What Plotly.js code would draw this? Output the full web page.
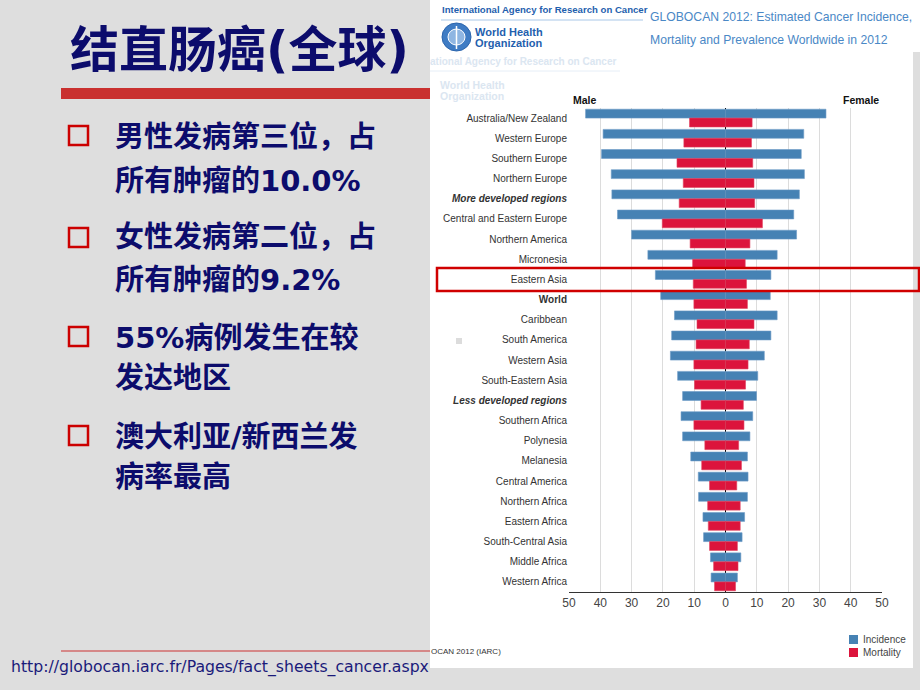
<!DOCTYPE html>
<html><head><meta charset="utf-8">
<script src="https://cdn.plot.ly/plotly-3.0.1.min.js"></script>
<style>html,body{margin:0;padding:0;background:#dedede;}#chart{width:920px;height:690px;}</style>
</head><body><div id="chart"></div>
<script>
const categories = ["Australia/New Zealand","Western Europe","Southern Europe","Northern Europe","More developed regions","Central and Eastern Europe","Northern America","Micronesia","Eastern Asia","World","Caribbean","South America","Western Asia","South-Eastern Asia","Less developed regions","Southern Africa","Polynesia","Melanesia","Central America","Northern Africa","Eastern Africa","South-Central Asia","Middle Africa","Western Africa"];
const maleIncidence   = [44.7,39.1,39.6,36.5,36.3,34.5,30.0,24.8,22.4,20.7,16.3,17.2,17.6,15.3,13.7,14.2,13.7,11.1,8.7,8.6,7.2,7.0,4.8,4.6];
const femaleIncidence = [32.1,25.0,24.2,25.2,23.6,21.8,22.7,16.5,14.5,14.3,16.5,14.5,12.4,10.3,9.9,8.7,7.8,7.0,7.2,7.0,6.1,5.3,4.9,3.8];
const maleMortality   = [11.5,13.3,15.5,13.5,14.8,20.2,11.3,10.5,10.3,10.1,9.1,9.4,10.1,9.9,7.8,10.1,6.6,7.6,5.1,5.7,5.5,5.1,3.8,3.5];
const femaleMortality = [8.5,8.3,8.7,9.1,9.3,11.8,7.8,6.3,6.7,7.0,9.1,7.6,7.2,6.4,5.7,5.9,4.2,5.1,3.6,4.7,4.7,3.8,4.0,3.2];
const xTickVals = [-50,-40,-30,-20,-10,0,10,20,30,40,50];
const xTickText = ["50","40","30","20","10","0","10","20","30","40","50"];
const boldItalic = ["More developed regions","Less developed regions"];
const boldOnly = ["World"];
const seriesNames = ["Incidence","Mortality"];
const seriesColors = ["#4682b4","#dc143c"];

const title = "结直肠癌(全球)";
const bulletLines = [
  ["男性发病第三位，占","所有肿瘤的10.0%"],
  ["女性发病第二位，占","所有肿瘤的9.2%"],
  ["55%病例发生在较","发达地区"],
  ["澳大利亚/新西兰发","病率最高"]
];
const sourceUrl = "http://globocan.iarc.fr/Pages/fact_sheets_cancer.aspx";

// plot area in pixels
const L = 569, R = 882, T = 108, B = 592;
const px = v => (v - L) / (R - L);
const py = v => (B - v) / (B - T);

const tickText = categories.map(c => boldItalic.includes(c) ? "<b><i>"+c+"</i></b>" : (boldOnly.includes(c) ? "<b>"+c+"</b>" : c));

const W = 0.44;
function barTrace(x, color, offset, name){
  return {type:"bar", orientation:"h", y:categories, x:x, offset:offset, width:W,
    marker:{color:color, line:{color:color==="#4682b4"?"#6b9bc6":"#e0435f", width:0.6}},
    name:name, showlegend:false, hoverinfo:"skip"};
}
const traces = [
  barTrace(maleIncidence.map(v=>-v), seriesColors[0], -W, seriesNames[0]),
  barTrace(femaleIncidence, seriesColors[0], -W, seriesNames[0]),
  barTrace(maleMortality.map(v=>-v), seriesColors[1], 0, seriesNames[1]),
  barTrace(femaleMortality, seriesColors[1], 0, seriesNames[1])
];

const navy = "#0c0c6c";
const cjk = "DejaVu Sans, Noto Sans CJK SC, sans-serif";
const sans = "Liberation Sans, Arial, sans-serif";
const ann = [];
const shapes = [];
function rect(x0,y0,x1,y1,fill,line,lw,layer){
  shapes.push({type:"rect", xref:"paper", yref:"paper", x0:px(x0), x1:px(x1), y0:py(y1), y1:py(y0),
    fillcolor:fill||"rgba(0,0,0,0)", line:{color:line||"rgba(0,0,0,0)", width:lw||0}, layer:layer||"below"});
}
function line(x0,y0,x1,y1,color,w,layer){
  shapes.push({type:"line", xref:"paper", yref:"paper", x0:px(x0), x1:px(x1), y0:py(y0), y1:py(y1),
    line:{color:color, width:w}, layer:layer||"below"});
}
function text(t,x,y,size,color,family,xanchor,weight){
  ann.push({text:t, xref:"paper", yref:"paper", x:px(x), y:py(y), xanchor:xanchor||"left", yanchor:"middle",
    showarrow:false, font:{size:size, color:color, family:family, weight:weight||"normal"}});
}

// header banner and chart panel
rect(430,0,920,52,"#ffffff");
rect(430,52,913,668,"#ffffff");
// title rule and bottom rule
rect(61,88,430,99,"#c9302f");
line(61,651,430,651,"#cc3333",1);

// slide title + bullets
text(title,239,50,49,navy,cjk,"center","bold");
const lineY = [[137,181],[237,280],[338,378],[437,477]];
const boxY = [126,228,327,426];
bulletLines.forEach((ls,i)=>{
  ls.forEach((l,j)=> text(l,113,lineY[i][j],29,navy,cjk,"left","bold"));
  rect(69,boxY[i],88,boxY[i]+19,"rgba(0,0,0,0)","#cc0000",2.5,"above");
});
text(sourceUrl,9,667,15.7,"#1a1a7a","DejaVu Sans","left");

// header contents
text("International Agency for Research on Cancer",440,10,9.6,"#1f5fae",sans,"left","bold");
line(441,20,643,20,"#a9c8e8",1);
shapes.push({type:"circle", xref:"paper", yref:"paper", x0:px(442), x1:px(471), y0:py(51), y1:py(23), fillcolor:"#3f7cc4", line:{color:"#2b65ad", width:1}, layer:"below"});
shapes.push({type:"circle", xref:"paper", yref:"paper", x0:px(448), x1:px(465), y0:py(45), y1:py(29), fillcolor:"#8fb6e2", line:{color:"#ffffff", width:1}, layer:"below"});
line(456.5,26,456.5,49,"#ffffff",1.5);
text("World Health",473,32,11,"#1f5fae",sans,"left","bold");
text("Organization",473,43,11,"#1f5fae",sans,"left","bold");
text("GLOBOCAN 2012: Estimated Cancer Incidence,",648,17,12.2,"#4a88c6",sans,"left");
text("Mortality and Prevalence Worldwide in 2012",648,40,12.2,"#4a88c6",sans,"left");

// faded watermark inside panel
text("ational Agency for Research on Cancer",428,61,10,"#dbe6f1",sans,"left","bold");
line(430,71,620,71,"#e6eef7",1);
text("World Health",438,85,10.5,"#dbe6f1",sans,"left","bold");
text("Organization",438,96,10.5,"#dbe6f1",sans,"left","bold");
rect(456,338,462,344,"#dcdcdc");

// chart labels
text("Male",571,100,10.5,"#111",sans,"left","bold");
text("Female",881,100,10.5,"#111",sans,"right","bold");
text("OCAN 2012 (IARC)",429,651,8,"#333",sans,"left");

// legend (manual)
rect(849,635,858,644,seriesColors[0]);
rect(849,648,858,657,seriesColors[1]);
text(seriesNames[0],861,639.5,10,"#444",sans,"left");
text(seriesNames[1],861,652.5,10,"#444",sans,"left");

// Eastern Asia highlight
rect(437,268,919,291,"rgba(0,0,0,0)","#d00000",2.5,"above");

const layout = {
  width:920, height:690,
  margin:{l:L, r:920-R, t:T, b:690-B, pad:0},
  paper_bgcolor:"#dedede", plot_bgcolor:"rgba(0,0,0,0)",
  barmode:"overlay", showlegend:false,
  xaxis:{range:[-50,50], tickvals:xTickVals, ticktext:xTickText, showgrid:true, gridcolor:"#dcdcdc", gridwidth:1,
    zeroline:true, zerolinecolor:"#000", zerolinewidth:1, showline:true, linecolor:"#333", linewidth:1,
    ticks:"", tickfont:{family:sans, size:12, color:"#444"}, fixedrange:true},
  yaxis:{type:"category", categoryorder:"array", categoryarray:categories, autorange:"reversed",
    tickvals:categories, ticktext:tickText, ticks:"", showgrid:false, zeroline:false, showline:false,
    ticklabelstandoff:1,
    tickfont:{family:sans, size:10, color:"#333"}, fixedrange:true},
  shapes:shapes, annotations:ann,
  font:{family:sans}
};
Plotly.newPlot("chart", traces, layout, {displayModeBar:false, staticPlot:true});
</script></body></html>
